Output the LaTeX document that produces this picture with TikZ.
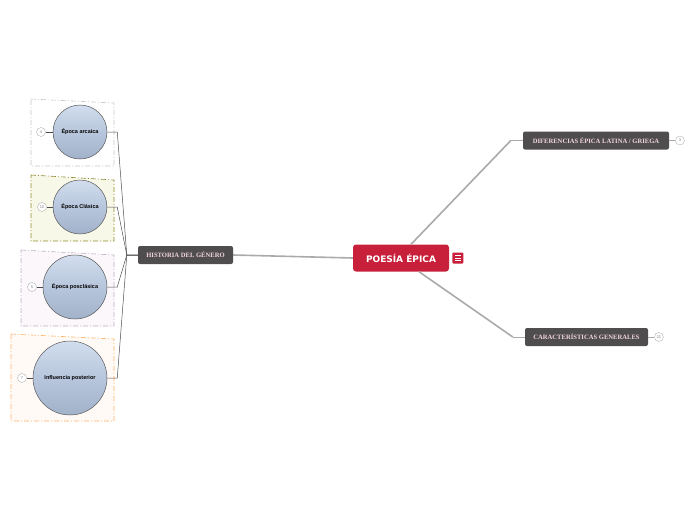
\documentclass[tikz,border=0pt]{standalone}
\usepackage{fontspec}
\setmainfont{Liberation Serif}
\setsansfont{Liberation Sans}
\newfontfamily\dejavu{DejaVu Sans}
\usepackage{tikz}
\usetikzlibrary{positioning}
\usetikzlibrary{calc}
\definecolor{rojo}{HTML}{C8203A}
\definecolor{gris}{HTML}{4F4D4D}
\definecolor{rosa}{HTML}{F4D6E4}
\definecolor{linea}{HTML}{AAAAAA}
\definecolor{azulclaro}{HTML}{D2DEEE}
\definecolor{azulmedio}{HTML}{B7C6DC}
\definecolor{azuloscuro}{HTML}{A2B2CA}

\begin{document}
\begin{tikzpicture}[x=1pt,y=-1pt,
        tema/.style={draw=none, fill=gris, rounded corners=2pt, text=rosa,
            font=\bfseries\fontsize{6.6}{7}\selectfont, inner xsep=0pt, minimum height=18pt},
        epoca/.style={circle, draw=gray!70!black, line width=0.5pt, top color=azulclaro,
            bottom color=azuloscuro, middle color=azulmedio,
            font=\sffamily\bfseries\fontsize{5.5}{6}\selectfont, inner sep=0pt},
        cuenta/.style={circle, draw=gray!60, fill=white, minimum size=9pt, inner sep=0pt,
            font=\sffamily\fontsize{4}{4}\selectfont, text=gray},
        marco/.style={line width=0.6pt, dash pattern=on 5pt off 2pt on 1pt off 2pt},
        rama/.style={draw=gray!60!black, line width=0.5pt}]
        \useasboundingbox (0,0) rectangle (696,520);

        % marcos de las epocas
        \draw[marco, draw=gray!45, fill=white] (31,99) -- (114,103) -- (114,166) -- (31,166) -- cycle;
        \draw[marco, draw=olive!70!gray, fill=olive!6] (31,175) -- (114,180) -- (114,241) -- (31,241) -- cycle;
        \draw[marco, draw=violet!25!gray!50, fill=violet!3] (21,250) -- (114,255) -- (114,326) -- (21,326) -- cycle;
        \draw[marco, draw=orange!60!white, fill=orange!4] (11,334) -- (114,339) -- (114,421) -- (11,421) -- cycle;

        % nodos
        \node[fill=rojo, rounded corners=3pt, text=white, font=\dejavu\bfseries\fontsize{9}{10}\selectfont,
            minimum width=96pt, minimum height=27pt] (poesia) at (401,258) {POESÍA ÉPICA};
        \node[fill=rojo, rounded corners=1pt, minimum size=11pt, inner sep=0pt, right=3pt of poesia] (icono) {};
        \foreach \d in {-2.5,0,2.5}
            \draw[white, line width=0.5pt] ($(icono.center)+(-3,\d)$) -- ++(6,0);

        \node[tema, minimum width=146pt] (difer) at (596,140.5) {DIFERENCIAS ÉPICA LATINA / GRIEGA};
        \node[tema, minimum width=123pt] (carac) at (586.5,337) {CARACTERÍSTICAS GENERALES};
        \node[tema, minimum width=95pt] (hist) at (185.5,255) {HISTORIA DEL GÉNERO};
        \node[cuenta, right=6pt of difer] (n3) {3};
        \node[cuenta, right=6pt of carac] (n21) {21};

        \node[epoca, minimum size=54pt] (arcaica) at (80,132) {Época arcaica};
        \node[epoca, minimum size=54pt] (clasica) at (80,207) {Época Clásica};
        \node[epoca, minimum size=64pt] (poscl) at (75,287) {Época posclásica};
        \node[epoca, minimum size=74pt] (influ) at (70,378) {Influencia posterior};

        \node[cuenta] (n4) at (41,132) {4};
        \node[cuenta] (n10) at (42,207) {10};
        \node[cuenta] (n5) at (32,287) {5};
        \node[cuenta] (n7) at (22,378) {7};

        % conexiones
        \draw[linea, line width=1.6pt] (hist.east) -- (poesia.west);
        \draw[linea, line width=1.6pt] ($(poesia.north)+(10,0)$) -- ($(difer.west)+(-12,0)$);
        \draw[linea, line width=0.6pt] ($(difer.west)+(-12,0)$) -- (difer.west);
        \draw[linea, line width=1.6pt] ($(poesia.south)+(18,0)$) -- ($(carac.west)+(-12,0)$);
        \draw[linea, line width=0.6pt] ($(carac.west)+(-12,0)$) -- (carac.west);
        \draw[linea, line width=0.6pt] (difer.east) -- (n3.west);
        \draw[linea, line width=0.6pt] (carac.east) -- (n21.west);

        \foreach \e in {arcaica,clasica,poscl,influ}
            \draw[rama] (\e.east) -- ++(10,0) -- ($(hist.west)+(-11,0)$) -- (hist.west);
        \draw[rama] (n4.east) -- (arcaica.west);
        \draw[rama] (n10.east) -- (clasica.west);
        \draw[rama] (n5.east) -- (poscl.west);
        \draw[rama] (n7.east) -- (influ.west);
    \end{tikzpicture}
\end{document}
